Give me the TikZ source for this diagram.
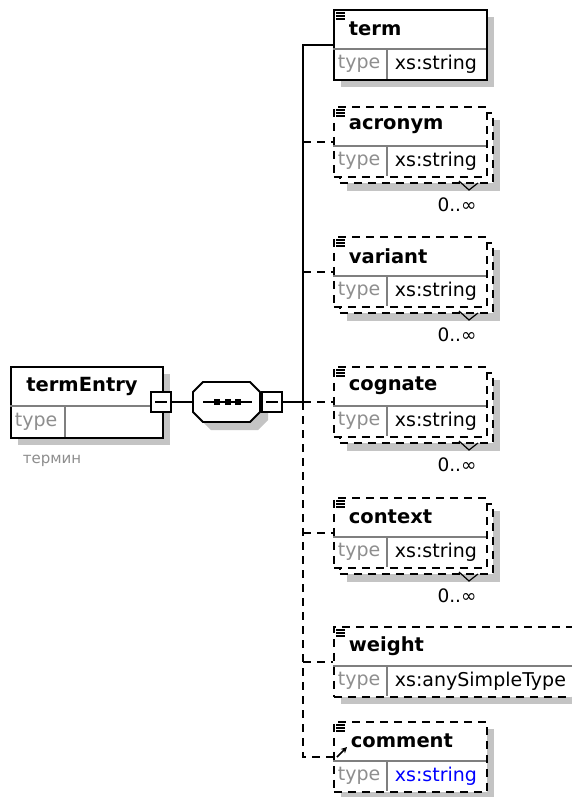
\documentclass[tikz,border=0pt]{standalone}
\usepackage{fontspec}
\setmainfont{DejaVu Sans}
\usetikzlibrary{arrows.meta,positioning,calc}
\definecolor{shadowgray}{HTML}{C4C4C4}
\definecolor{rulegray}{HTML}{7F7F7F}
\definecolor{typegray}{HTML}{8E8E8E}
\definecolor{linkblue}{HTML}{0000FF}

\begin{document}
\begin{tikzpicture}[x=1pt,y=-1pt,line width=1.8pt,
  box/.style={draw,fill=white,anchor=north west,inner sep=0pt,minimum width=153pt,minimum height=70pt},
  opt/.style={dash pattern=on 8pt off 6pt},
  minusbox/.style={draw,fill=white,inner sep=0pt,minimum size=20pt},
  seqbox/.style={inner sep=0pt,minimum width=67pt,minimum height=40pt},
  ename/.style={anchor=west,inner sep=0pt,font=\fontsize{19.5}{22}\selectfont\bfseries},
  tlabel/.style={anchor=west,inner sep=0pt,text=typegray,font=\fontsize{19}{22}\selectfont},
  tvalue/.style={anchor=west,inner sep=0pt,font=\fontsize{19}{22}\selectfont},
  occur/.style={inner sep=0pt,font=\fontsize{18.5}{22}\selectfont},
  rule/.style={draw=rulegray,line width=1.2pt},
  icon/.style={line width=1.3pt}]
  \useasboundingbox (0,0) rectangle (572,797);
  \fill[white] (0,0) rectangle (572,797);
  \clip (0,0) rectangle (572,797);

  % root element
  \fill[shadowgray] (18,374) rectangle ++(152,71);
  \node[box,minimum width=152pt,minimum height=71pt] (termentry) at (10,366) {};
  \draw[rule] (10,406) -- (162,406) (65,406) -- (65,437);
  \node[ename,anchor=center] (rootname) at (82,386) {termEntry};
  \node[tlabel] (roottype) at (14,422) {type};
  \node[tlabel,font=\fontsize{15}{18}\selectfont] (rootdoc) at (22,461) {термин};
  \node[minusbox] (rootmin) at (161,402) {};
  \draw[icon] ([xshift=-6pt]rootmin.center) -- ([xshift=6pt]rootmin.center);

  % sequence
  \fill[shadowgray,shift={(8,8)}] (203,382) -- (250,382) -- (260,392) -- (260,412) -- (250,422) -- (203,422) -- (193,412) -- (193,392) -- cycle;
  \draw[fill=white] (203,382) -- (250,382) -- (260,392) -- (260,412) -- (250,422) -- (203,422) -- (193,412) -- (193,392) -- cycle;
  \node[seqbox] (seq) at (226.5,402) {};
  \draw[icon] (203,402) -- (252,402);
  \foreach \d in {217,228,238} \fill (\d,402) +(-3,-3) rectangle +(3,3);
  \node[minusbox] (seqmin) at (272,402) {};
  \draw[icon] ([xshift=-6pt]seqmin.center) -- ([xshift=6pt]seqmin.center);

  % term
  \fill[shadowgray] (341,17) rectangle ++(153,70);
  \node[box] (term) at (333,9) {};
  \draw[icon] (336,13) -- ++(9,0) (336,16) -- ++(9,0) (336,19) -- ++(9,0);
  \node[ename] (termname) at (348,29) {term};
  \draw[rule] (333,49) -- (486,49) (387,49) -- (387,79);
  \node[tlabel] (termtype) at (337,64) {type};
  \node[tvalue] (termvalue) at (394,64) {xs:string};

  % repeated elements
  \foreach \n/\s in {acronym/146,variant/276,cognate/406,context/537}{
    \fill[shadowgray] (347,\s-26) rectangle ++(153,71);
    \node[box,opt] (\n-back) at (339,\s-34) {};
    \node[box,opt] (\n) at (333,\s-40) {};
    \draw[icon] (336,\s-36) -- ++(9,0) (336,\s-33) -- ++(9,0) (336,\s-30) -- ++(9,0);
    \node[ename] (\n-name) at (348,\s-20) {\n};
    \draw[rule] (333,\s) -- (486,\s) (387,\s) -- (387,\s+30);
    \node[tlabel] (\n-type) at (337,\s+15) {type};
    \node[tvalue] (\n-value) at (394,\s+15) {xs:string};
    \draw[line width=1.2pt] (459,\s+35) -- (469,\s+44) -- (478,\s+37);
    \node[occur] (\n-occ) at (457,\s+59) {0..∞};
  }

  % weight
  \fill[shadowgray] (341,634) rectangle (600,704);
  \node[box,opt,minimum width=260pt] (weight) at (333,626) {};
  \draw[icon] (336,630) -- ++(9,0) (336,633) -- ++(9,0) (336,636) -- ++(9,0);
  \node[ename] (weightname) at (348,646) {weight};
  \draw[rule] (333,666) -- (600,666) (387,666) -- (387,696);
  \node[tlabel] (weighttype) at (337,681) {type};
  \node[tvalue] (weightvalue) at (394,681) {xs:anySimpleType};

  % comment
  \fill[shadowgray] (341,729) rectangle ++(153,70);
  \node[box,opt] (comment) at (333,721) {};
  \draw[icon] (336,725) -- ++(9,0) (336,728) -- ++(9,0) (336,731) -- ++(9,0);
  \draw[line width=1.6pt,-{Stealth[length=6pt,width=6pt]}] (337,757) -- (347,747);
  \node[ename] (commentname) at (350,741) {comment};
  \draw[rule] (333,761) -- (486,761) (387,761) -- (387,791);
  \node[tlabel] (commenttype) at (337,776) {type};
  \node[tvalue,text=linkblue] (commentvalue) at (394,776) {xs:string};

  % connectors
  \coordinate (fork) at (303,402);
  \draw (rootmin) -- (seq);
  \draw (seqmin) -- (fork);
  \draw (fork) -- (fork |- term.west) -- (term.west);
  \foreach \n in {acronym,variant,cognate,context,weight} \draw[opt] (fork |- \n.west) -- (\n.west);
  \draw[opt] (fork) -- (fork |- comment.west) -- (comment.west);
\end{tikzpicture}
\end{document}
